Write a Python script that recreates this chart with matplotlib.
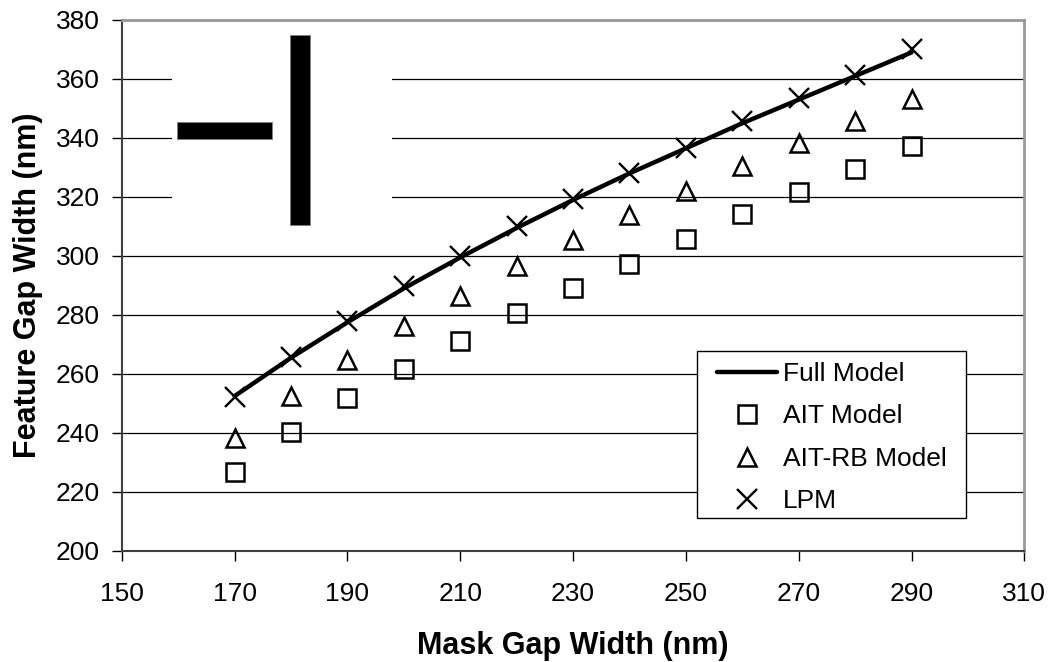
import matplotlib
matplotlib.use("Agg")
import matplotlib.pyplot as plt
from matplotlib.patches import Rectangle

mask_gap = [170, 180, 190, 200, 210, 220, 230, 240, 250, 260, 270, 280, 290]
full_model = [252.5, 265.5, 277.5, 289, 299.5, 309.5, 319, 328, 336.5, 345, 353, 361, 369]
ait_model = [226.8, 240.3, 251.9, 261.7, 271.1, 280.7, 289.2, 297.4, 305.9, 314.3, 321.7, 329.5, 337.2]
ait_rb_model = [238.3, 252.6, 264.6, 276.4, 286.3, 296.5, 305.5, 314.0, 321.9, 330.4, 338.3, 345.6, 353.3]
lpm = [252.2, 265.8, 278.1, 289.7, 299.9, 310.0, 319.3, 328.1, 336.6, 345.6, 353.6, 361.5, 370.2]

x_ticks = [150, 170, 190, 210, 230, 250, 270, 290, 310]
y_ticks = [200, 220, 240, 260, 280, 300, 320, 340, 360, 380]

plt.rcParams['font.family'] = ['Liberation Sans', 'DejaVu Sans']

fig = plt.figure(figsize=(10.52, 6.62), dpi=100)
ax = fig.add_axes([0.1157, 0.1677, 0.858, 0.8021])

ax.set_xlim(150, 310)
ax.set_ylim(200, 380)
ax.set_xticks(x_ticks)
ax.set_yticks(y_ticks)
ax.yaxis.grid(True, color='black', linewidth=0.9)
ax.set_axisbelow(True)

# inset sketch of the mask shape
ax.add_patch(Rectangle((0.0554, 0.586), 0.2444, 0.39, transform=ax.transAxes,
                       facecolor='white', edgecolor='none', zorder=1.5))
ax.add_patch(Rectangle((0.0609, 0.7753), 0.106, 0.0332, transform=ax.transAxes,
                       facecolor='black', edgecolor='#808080', linewidth=0.6, zorder=2))
ax.add_patch(Rectangle((0.1865, 0.6134), 0.0218, 0.3584, transform=ax.transAxes,
                       facecolor='black', edgecolor='#808080', linewidth=0.6, zorder=2))

ax.plot(mask_gap, full_model, color='black', linewidth=3.2, label='Full Model', zorder=3,
        solid_capstyle='round')
ax.plot(mask_gap, ait_model, linestyle='none', marker='s', markersize=13.5,
        markerfacecolor='none', markeredgecolor='black', markeredgewidth=1.8,
        label='AIT Model', zorder=3)
ax.plot(mask_gap, ait_rb_model, linestyle='none', marker='^', markersize=13.5,
        markerfacecolor='none', markeredgecolor='black', markeredgewidth=1.8,
        label='AIT-RB Model', zorder=3)
ax.plot(mask_gap, lpm, linestyle='none', marker='x', markersize=14,
        markeredgecolor='black', markeredgewidth=1.7, label='LPM', zorder=3)

for side in ['top', 'right']:
    ax.spines[side].set_color('#999999')
    ax.spines[side].set_linewidth(2)
for side in ['left', 'bottom']:
    ax.spines[side].set_color('#404040')
    ax.spines[side].set_linewidth(1.5)

ax.tick_params(axis='both', direction='out', length=7, width=1, color='black',
               labelsize=19)
ax.tick_params(axis='x', pad=15)
ax.tick_params(axis='y', pad=9)

ax.set_xlabel('Mask Gap Width (nm)', fontsize=22, fontweight='bold', labelpad=18)
ax.set_ylabel('Feature Gap Width (nm)', fontsize=22, fontweight='bold', labelpad=9)

# legend box drawn separately so the side padding can differ from the top padding
ax.add_patch(Rectangle((0.6377, 0.0616), 0.2982, 0.3156, transform=ax.transAxes,
                       facecolor='white', edgecolor='black', linewidth=1, zorder=4))
leg = ax.legend(loc='upper left', bbox_to_anchor=(0.6592, 0.356), fontsize=19,
                frameon=False, borderpad=0, labelspacing=0.7, handlelength=2.3,
                handletextpad=0.2, borderaxespad=0)
leg.set_zorder(5)

fig.savefig('out.png', dpi=100)
